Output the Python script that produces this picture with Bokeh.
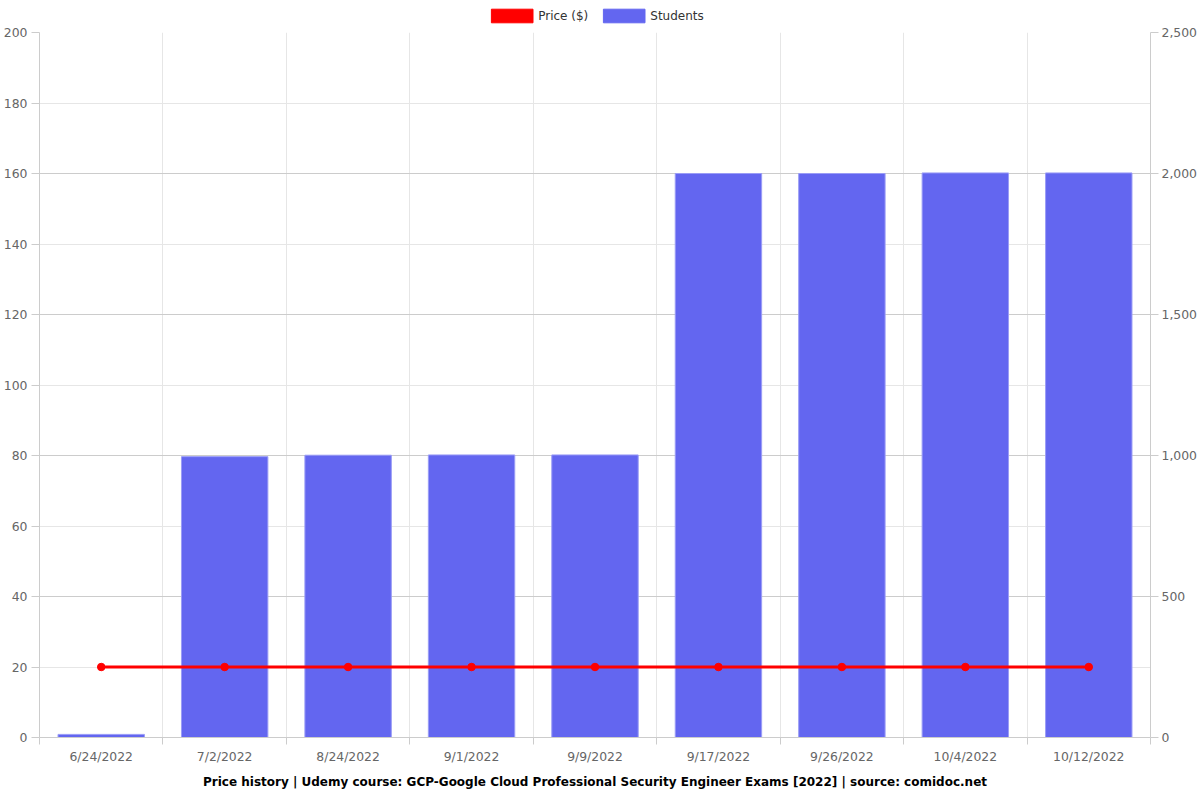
from bokeh.plotting import figure
from bokeh.layouts import column
from bokeh.models import (Range1d, LinearAxis, FixedTicker, Grid, Legend, LegendItem,
                          NumeralTickFormatter, ColumnDataSource)
from bokeh.embed import file_html
from bokeh.resources import INLINE

dates = ["6/24/2022", "7/2/2022", "8/24/2022", "9/1/2022", "9/9/2022",
         "9/17/2022", "9/26/2022", "10/4/2022", "10/12/2022"]
price = [20, 20, 20, 20, 20, 20, 20, 20, 20]
students = [11, 996, 1001, 1002, 1002, 2000, 2000, 2002, 2002]
price_ticks = [0, 20, 40, 60, 80, 100, 120, 140, 160, 180, 200]
student_ticks = [0, 500, 1000, 1500, 2000, 2500]
series_names = ["Price ($)", "Students"]
series_colors = ["#ff0000", "#6366f0"]

n = len(dates)
centers = [i + 0.5 for i in range(n)]
bounds = list(range(n + 1))

src = ColumnDataSource(dict(x=centers, price=price, students=students, d=dates))

FONT = "DejaVu Sans"
GRAY = "#666666"
AXC = "#cccccc"
W = 1200

# ---------- legend strip ----------
lg = figure(width=W, height=26, output_backend="svg", toolbar_location=None,
            x_range=Range1d(0, 1), y_range=Range1d(0, 1),
            min_border_left=0, min_border_right=0, min_border_top=0, min_border_bottom=0)
lg.axis.visible = False
lg.grid.visible = False
lg.outline_line_color = None
swatches = [lg.vbar(x=[-10], top=[0], width=0.1, fill_color=c, line_color=c)
            for c in series_colors]
leg = Legend(items=[LegendItem(label=nm, renderers=[r]) for nm, r in zip(series_names, swatches)],
             orientation="horizontal", location="top_center",
             glyph_width=52, glyph_height=17, label_text_font=FONT,
             label_text_font_size="12px", label_text_color="#333333",
             border_line_color=None, background_fill_alpha=0,
             padding=0, margin=7, spacing=9, label_standoff=1)
lg.add_layout(leg, "center")

# ---------- main chart ----------
p = figure(width=W, height=774, output_backend="svg", toolbar_location=None,
           x_range=Range1d(0, n), y_range=Range1d(0, 200),
           min_border_left=38, min_border_right=50, min_border_top=6, min_border_bottom=63)
p.extra_y_ranges = {"students": Range1d(0, 2500)}
p.outline_line_color = None
p.background_fill_color = "white"
p.border_fill_color = "white"

bars = p.vbar(x="x", top="students", width=0.7, source=src, y_range_name="students",
              fill_color=series_colors[1], line_color="#9a9cf6", line_width=1)
p.line(x="x", y="price", source=src, line_color=series_colors[0], line_width=3)
p.scatter(x="x", y="price", source=src, size=7.5, fill_color=series_colors[0],
          line_color=series_colors[0])

xa = p.xaxis[0]
xa.ticker = FixedTicker(ticks=centers, minor_ticks=bounds)
xa.major_label_overrides = {c: d for c, d in zip(centers, dates)}
xa.major_tick_line_color = None
xa.major_tick_out = 7
xa.major_tick_in = 0
xa.minor_tick_line_color = AXC
xa.minor_tick_out = 7
xa.minor_tick_in = 0
xa.axis_line_color = AXC
xa.major_label_text_font = FONT
xa.major_label_text_font_size = "12.4px"
xa.major_label_text_color = GRAY
xa.major_label_standoff = 4

p.xgrid.ticker = FixedTicker(ticks=bounds)
p.xgrid.grid_line_color = "#e6e6e6"

ya = p.yaxis[0]
ya.ticker = FixedTicker(ticks=price_ticks)
ya.axis_line_color = AXC
ya.major_tick_line_color = AXC
ya.major_tick_out = 8
ya.major_tick_in = 0
ya.minor_tick_line_color = None
ya.major_label_text_font = FONT
ya.major_label_text_font_size = "12.4px"
ya.major_label_text_color = GRAY
ya.major_label_standoff = 4
p.ygrid.ticker = FixedTicker(ticks=price_ticks)
p.ygrid.grid_line_color = "#e6e6e6"

ra = LinearAxis(y_range_name="students", ticker=FixedTicker(ticks=student_ticks),
                formatter=NumeralTickFormatter(format="0,0"))
ra.axis_line_color = AXC
ra.major_tick_line_color = AXC
ra.major_tick_out = 8
ra.major_tick_in = 0
ra.minor_tick_line_color = None
ra.major_label_text_font = FONT
ra.major_label_text_font_size = "12.4px"
ra.major_label_text_color = GRAY
ra.major_label_standoff = 3
p.add_layout(ra, "right")
p.add_layout(Grid(dimension=1, ticker=FixedTicker(ticks=student_ticks), y_range_name="students",
                  grid_line_color="#cccccc"))

p.title.text = ("Price history | Udemy course: GCP-Google Cloud Professional Security "
                "Engineer Exams [2022] | source: comidoc.net")
p.title_location = "below"
p.title.align = "center"
p.title.offset = 5
p.title.text_font = FONT
p.title.text_font_size = "12px"
p.title.text_font_style = "bold"
p.title.text_color = "#000000"
p.title.standoff = 12

layout = column(lg, p, spacing=0)
open("out.html", "w").write(file_html(layout, INLINE))
